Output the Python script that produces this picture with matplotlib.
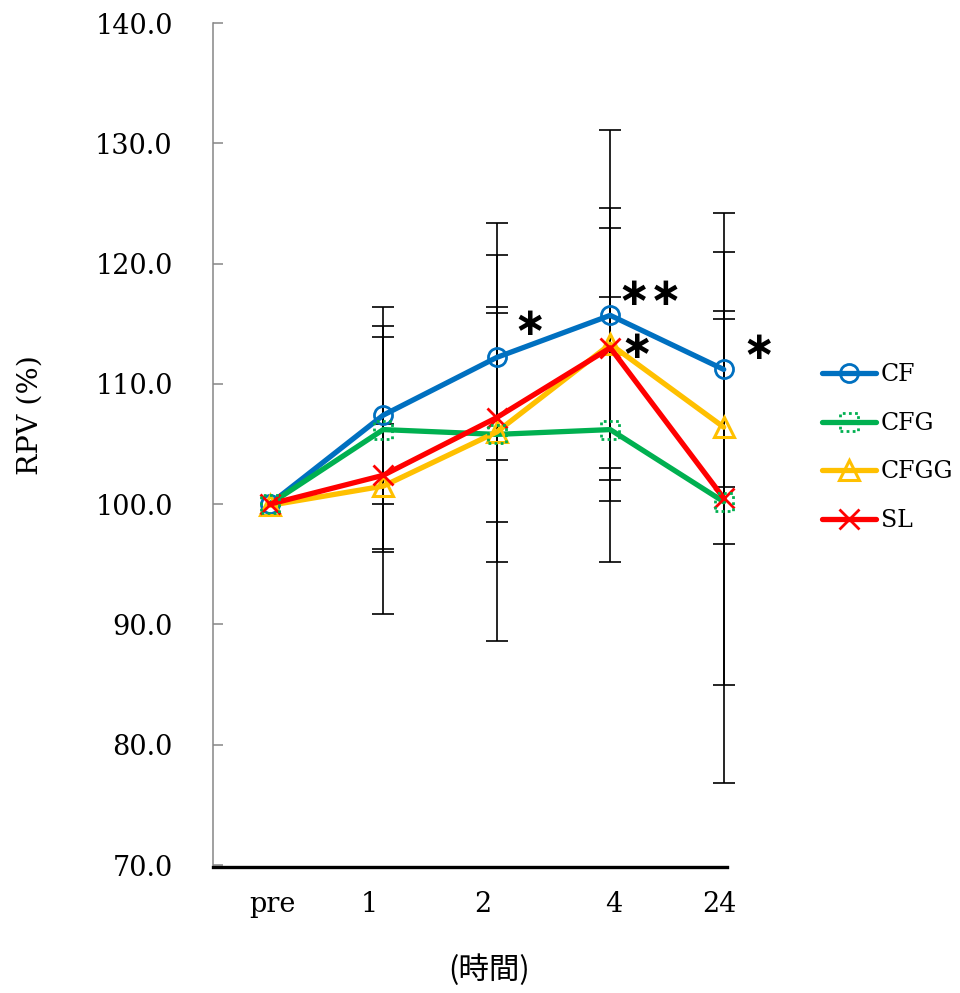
import numpy as np
import matplotlib.pyplot as plt
from matplotlib.legend_handler import HandlerTuple

plt.rcParams['font.family'] = ['DejaVu Serif']

# RPV relative to pre (%) and SD, per group
hours = ['pre', '1', '2', '4', '24']
cf = [100.0, 107.4, 112.2, 115.7, 111.2]
cf_sd = [0.0, 7.4, 8.5, 15.4, 9.8]
cfg = [100.0, 106.2, 105.8, 106.2, 100.2]
cfg_sd = [0.0, 10.2, 10.6, 11.0, 15.2]
cfgg = [99.9, 101.5, 106.0, 113.3, 106.4]
cfgg_sd = [0.0, 5.2, 17.4, 11.3, 9.7]
sl = [100.0, 102.4, 107.2, 113.0, 100.5]
sl_sd = [0.0, 11.5, 8.7, 10.0, 23.7]

blue = '#0070C0'
green = '#00B050'
yellow = '#FFC000'
red = '#FF0000'

fig = plt.figure(figsize=(9.6, 9.93), dpi=100)
ax = fig.add_axes([0.2219, 0.1289, 0.5911, 0.8479])
x = np.arange(len(hours))

# error bars (no bar at pre)
for vals, sd in [(cf, cf_sd), (cfg, cfg_sd), (cfgg, cfgg_sd), (sl, sl_sd)]:
    ax.errorbar(x[1:], vals[1:], yerr=sd[1:], fmt='none', ecolor='black',
                elinewidth=1.2, capsize=8, capthick=1.2, zorder=2)

h_cf, = ax.plot(x, cf, color=blue, lw=3.8, marker='o', ms=13, mfc='none',
                mew=2.0, zorder=3, solid_capstyle='round')
h_cfg, = ax.plot(x, cfg, color=green, lw=3.8, zorder=3, solid_capstyle='round')
h_cfg_m = ax.scatter(x, cfg, marker='s', s=13 ** 2, facecolors='none',
                     edgecolors=green, linewidths=2.0, linestyles=(0, (1, 1.2)),
                     zorder=4)
h_cfgg, = ax.plot(x, cfgg, color=yellow, lw=3.8, marker='^', ms=14, mfc='none',
                  mew=2.2, zorder=3, solid_capstyle='round')
h_sl, = ax.plot(x, sl, color=red, lw=3.8, marker='x', ms=14, mew=2.0,
                zorder=3, solid_capstyle='round')

# significance marks
star_kw = dict(ha='center', va='center', fontsize=28, fontweight='bold',
               family=['DejaVu Sans'], color='black')
ax.text(2.29, 115.0, '\u2217', **star_kw)
ax.text(3.35, 117.5, '\u2217\u2217', **star_kw)
ax.text(3.23, 113.1, '\u2217', **star_kw)
ax.text(4.31, 112.95, '\u2217', **star_kw)

ax.set_xlim(-0.5, 4.5)
ax.set_ylim(70, 140)
ax.set_yticks(np.arange(70, 141, 10))
ax.set_yticklabels([f'{v:.1f}' for v in np.arange(70, 141, 10)])
ax.set_xticks([0.02, 0.88, 1.88, 3.03, 3.96])
ax.set_xticklabels(hours)
ax.tick_params(axis='y', direction='in', length=7, width=1.1, color='#868686',
               pad=29, labelsize=19.5)
ax.tick_params(axis='x', length=0, pad=17, labelsize=19.5)

for side in ['top', 'right']:
    ax.spines[side].set_visible(False)
ax.spines['left'].set_color('#868686')
ax.spines['left'].set_linewidth(1.1)
ax.spines['bottom'].set_color('black')
ax.spines['bottom'].set_linewidth(2.4)
ax.spines['bottom'].set_bounds(-0.5, 4.03)
ax.spines['bottom'].set_position(('outward', 1.5))

fig.text(0.031, 0.582, 'RPV (%)', rotation=90, ha='center', va='center',
         fontsize=20.5)
fig.text(0.51, 0.0232, '(時間)', ha='center', va='center', fontsize=22,
         family=['Noto Sans CJK JP', 'DejaVu Sans'])

fig.legend([h_cf, (h_cfg, h_cfg_m), h_cfgg, h_sl], ['CF', 'CFG', 'CFGG', 'SL'],
           handler_map={tuple: HandlerTuple(ndivide=1)},
           loc='upper left', bbox_to_anchor=(0.856, 0.634), frameon=False,
           fontsize=17, borderpad=0, borderaxespad=0, handlelength=2.3,
           handletextpad=0.2, labelspacing=1.08, numpoints=1,
           scatterpoints=1, scatteryoffsets=[0.5])

fig.savefig('out.png', dpi=100)
